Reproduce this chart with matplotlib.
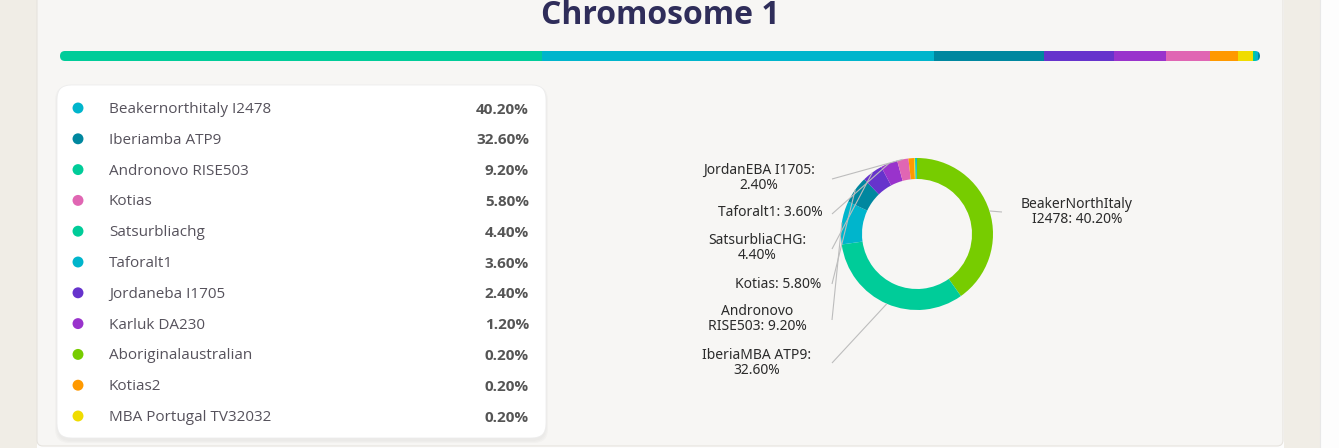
import matplotlib
matplotlib.use("Agg")
import matplotlib.pyplot as plt
import numpy as np
from matplotlib.patches import FancyBboxPatch, Rectangle

# ---------------- data ----------------
title = "Chromosome 1"

legend_names = ["Beakernorthitaly I2478", "Iberiamba ATP9", "Andronovo RISE503", "Kotias",
                "Satsurbliachg", "Taforalt1", "Jordaneba I1705", "Karluk DA230",
                "Aboriginalaustralian", "Kotias2", "MBA Portugal TV32032"]
legend_values = [40.2, 32.6, 9.2, 5.8, 4.4, 3.6, 2.4, 1.2, 0.2, 0.2, 0.2]
legend_colors = ["#00b5cc", "#00879f", "#00cc99", "#e066b3", "#00cc99", "#00b5cc",
                 "#6633cc", "#9933cc", "#77cc00", "#ff9900", "#f0dc00"]

bar_values = [40.2, 32.6, 9.2, 5.8, 4.4, 3.6, 2.4, 1.2, 0.2, 0.2, 0.2]
bar_colors = ["#00cc99", "#00b5cc", "#00879f", "#6633cc", "#9933cc", "#e066b3",
              "#ff9900", "#f0dc00", "#00cc99", "#00b5cc", "#00879f"]

donut_values = [40.2, 32.6, 9.2, 5.8, 4.4, 3.6, 2.4, 1.2, 0.2, 0.2, 0.2]
donut_colors = ["#77cc00", "#00cc99", "#00b5cc", "#00879f", "#6633cc", "#9933cc",
                "#e066b3", "#ff9900", "#f0dc00", "#00cc99", "#00b5cc"]
donut_labels = ["BeakerNorthItaly\nI2478: 40.20%", "IberiaMBA ATP9:\n32.60%",
                "Andronovo\nRISE503: 9.20%", "Kotias: 5.80%", "SatsurbliaCHG:\n4.40%",
                "Taforalt1: 3.60%", "JordanEBA I1705:\n2.40%"]

# ---------------- figure ----------------
W, H = 1339, 448
fig = plt.figure(figsize=(W / 100, H / 100), dpi=100, facecolor="#fdfdfd")

bg = fig.add_axes([0, 0, 1, 1])
bg.set_xlim(0, W)
bg.set_ylim(H, 0)
bg.axis("off")

# page background pieces
bg.add_patch(Rectangle((0, 0), 37, H, facecolor="#f0ede6", edgecolor="none"))
bg.add_patch(Rectangle((1284, 0), 36, H, facecolor="#f0ede6", edgecolor="none"))
bg.add_patch(FancyBboxPatch((37, -30), 1246, 476, boxstyle="round,pad=0,rounding_size=6",
                            facecolor="#f7f6f4", edgecolor="#e6e3de", linewidth=0.8))
bg.plot([1320, 1320], [0, H], color="#e8e8e8", lw=0.8)

# title
bg.text(660, 23.5, title, ha="center", va="baseline", fontsize=23, fontweight="bold",
        family="Open Sans", color="#2f2d5a")

# ---------------- stacked bar ----------------
axb = fig.add_axes([60 / W, 1 - 61 / H, 1200 / W, 10 / H])
axb.set_xlim(0, sum(bar_values))
axb.set_ylim(-0.5, 0.5)
axb.axis("off")
lefts = np.concatenate([[0], np.cumsum(bar_values)[:-1]])
bars = axb.barh(0, bar_values, left=lefts, height=1.0, color=bar_colors, edgecolor="none")
clip_px = FancyBboxPatch((60, 51), 1200, 10, boxstyle="round,pad=0,rounding_size=5",
                         transform=bg.transData, facecolor="none", edgecolor="none")
for b in bars:
    b.set_clip_path(clip_px)
bg.add_patch(FancyBboxPatch((61, 52.5), 1200, 10, boxstyle="round,pad=0,rounding_size=5",
                            facecolor="#000000", alpha=0.06, edgecolor="none", zorder=0.5))

# ---------------- legend card ----------------
for i, a in enumerate([0.025, 0.03, 0.04]):
    bg.add_patch(FancyBboxPatch((57 - i, 86 - i + 2), 489 + 2 * i, 353 + 2 * i,
                                boxstyle="round,pad=0,rounding_size=14",
                                facecolor="#000000", alpha=a * 0.5, edgecolor="none"))
bg.add_patch(FancyBboxPatch((57, 85), 489, 353, boxstyle="round,pad=0,rounding_size=14",
                            facecolor="white", edgecolor="#ececec", linewidth=0.6))

row_y = np.linspace(108, 416, len(legend_names))
bg.scatter([78] * len(legend_names), row_y, s=62, c=legend_colors, edgecolors="none", zorder=3)
for y, name, v in zip(row_y, legend_names, legend_values):
    bg.text(109, y + 1.5, name, ha="left", va="center", fontsize=11, family="Open Sans",
            color="#56525c")
    bg.text(529, y + 1.5, f"{v:.2f}%", ha="right", va="center", fontsize=11,
            family="Open Sans", fontweight="bold", color="#555555")

# ---------------- donut ----------------
cx, cy, R = 917, 234, 76
axp = fig.add_axes([(cx - R) / W, 1 - (cy + R) / H, 2 * R / W, 2 * R / H])
wedges, _ = axp.pie(donut_values, colors=donut_colors, startangle=90, counterclock=False,
                    radius=1.0, wedgeprops=dict(width=21 / 76, edgecolor="none"))
axp.set_xlim(-1, 1)
axp.set_ylim(-1, 1)
axp.axis("off")

ov = fig.add_axes([0, 0, 1, 1])
ov.set_xlim(0, W)
ov.set_ylim(H, 0)
ov.axis("off")
ov.patch.set_alpha(0)

# (text center x, text center y, leader start x, leader start y)
label_pos = [
    (1077, 212, 1002, 212),
    (757, 363, 832, 363),
    (757, 319, 832, 320),
    (778, 284, 832, 284),
    (757, 248, 832, 249),
    (770, 213, 832, 214),
    (759, 178, 832, 179),
]
for i, (txt, (tx, ty, lx, ly)) in enumerate(zip(donut_labels, label_pos)):
    w = wedges[i]
    tm = np.deg2rad((w.theta1 + w.theta2) / 2)
    px = cx + R * np.cos(tm)
    py = cy - R * np.sin(tm)
    ov.plot([lx, px], [ly, py], color="#bdbdbd", lw=0.8, solid_capstyle="butt")
    ov.text(tx, ty, txt, ha="center", va="center", multialignment="center", fontsize=10,
            family="Noto Sans", color="#2b2b2b", linespacing=1.05)

fig.savefig("out.png", dpi=100, facecolor=fig.get_facecolor())
